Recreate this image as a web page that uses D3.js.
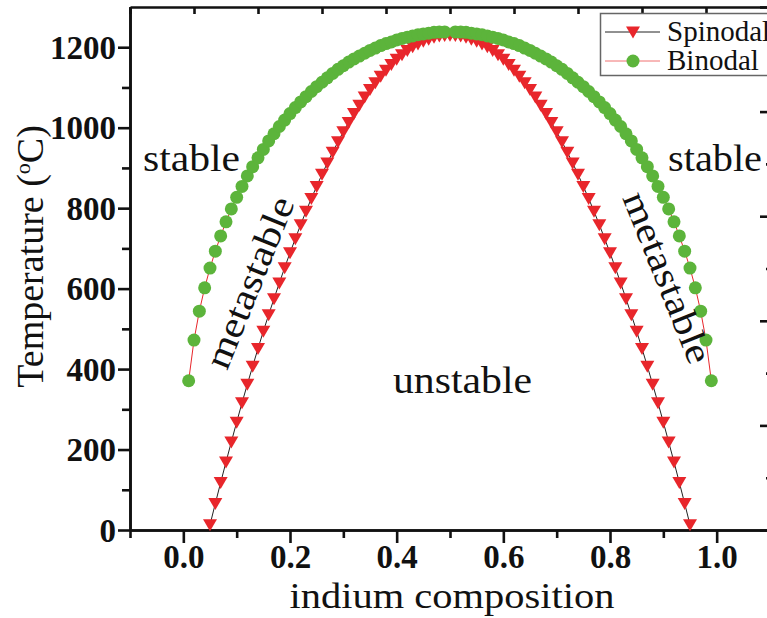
<!DOCTYPE html>
<html>
<head>
<meta charset="utf-8">
<script src="https://cdn.jsdelivr.net/npm/d3@7/dist/d3.min.js"></script>
<style>
  html, body { margin: 0; padding: 0; background: #fff; overflow: hidden; }
  svg { display: block; }
  text { font-family: "Liberation Serif", "Times New Roman", serif; fill: #111; }
</style>
</head>
<body>
<svg id="chart" width="767" height="618"></svg>
<script>
// Spinodal curve of the indium solid solution (temperature in °C)
const spinodalComposition = [
  0.05,0.06,0.07,0.08,0.09,0.10,0.11,0.12,0.13,0.14,0.15,0.16,0.17,0.18,0.19,0.20,
  0.21,0.22,0.23,0.24,0.25,0.26,0.27,0.28,0.29,0.30,0.31,0.32,0.33,0.34,0.35,0.36,
  0.37,0.38,0.39,0.40,0.41,0.42,0.43,0.44,0.45,0.46,0.47,0.48,0.49,0.50,0.51,0.52,
  0.53,0.54,0.55,0.56,0.57,0.58,0.59,0.60,0.61,0.62,0.63,0.64,0.65,0.66,0.67,0.68,
  0.69,0.70,0.71,0.72,0.73,0.74,0.75,0.76,0.77,0.78,0.79,0.80,0.81,0.82,0.83,0.84,
  0.85,0.86,0.87,0.88,0.89,0.90,0.91,0.92,0.93,0.94,0.95
];
const spinodalTemperature = [
  13,66,118,169,219,268,316,362,407,451,494,535,575,614,652,689,
  724,759,792,824,854,884,912,939,965,990,1013,1035,1056,1076,1095,1112,
  1128,1143,1157,1170,1181,1192,1201,1208,1215,1220,1225,1228,1229,1230,1229,1228,
  1225,1220,1215,1208,1201,1192,1181,1170,1157,1143,1128,1112,1095,1076,1056,1035,
  1013,990,965,939,912,884,854,824,792,759,724,689,652,614,575,535,
  494,451,407,362,316,268,219,169,118,66,13
];

// Binodal (miscibility gap) curve
const binodalComposition = [
  0.01,0.02,0.03,0.04,0.05,0.06,0.07,0.08,0.09,0.10,0.11,0.12,0.13,0.14,0.15,0.16,
  0.17,0.18,0.19,0.20,0.21,0.22,0.23,0.24,0.25,0.26,0.27,0.28,0.29,0.30,0.31,0.32,
  0.33,0.34,0.35,0.36,0.37,0.38,0.39,0.40,0.41,0.42,0.43,0.44,0.45,0.46,0.47,0.48,0.49,
  0.51,0.52,0.53,0.54,0.55,0.56,0.57,0.58,0.59,0.60,0.61,0.62,0.63,0.64,0.65,0.66,
  0.67,0.68,0.69,0.70,0.71,0.72,0.73,0.74,0.75,0.76,0.77,0.78,0.79,0.80,0.81,0.82,
  0.83,0.84,0.85,0.86,0.87,0.88,0.89,0.90,0.91,0.92,0.93,0.94,0.95,0.96,0.97,0.98,0.99
];
const binodalTemperature = [
  371,472,544,602,651,693,731,766,798,827,854,880,903,925,946,967,
  985,1003,1019,1035,1050,1064,1077,1090,1102,1113,1124,1135,1145,1154,1163,1171,
  1178,1185,1192,1198,1204,1209,1213,1218,1222,1225,1228,1231,1233,1235,1237,1238,1238,
  1238,1238,1237,1235,1233,1231,1228,1225,1222,1218,1213,1209,1204,1198,1192,1185,
  1178,1171,1163,1154,1145,1135,1124,1113,1102,1090,1077,1064,1050,1035,1019,1003,
  985,967,946,925,903,880,854,827,798,766,731,693,651,602,544,472,371
];

// Axis ticks
const xMajorTicks = [0.0, 0.2, 0.4, 0.6, 0.8, 1.0];
const xMinorTicks = [-0.1, 0.1, 0.3, 0.5, 0.7, 0.9, 1.1];
const yMajorTicks = [0, 200, 400, 600, 800, 1000, 1200];
const yMinorTicks = [100, 300, 500, 700, 900, 1100];
const topTicks = [0,1,2,3,4,5,6,7,8,9,10];
const rightMajorTicks = [0,1,2,3,4,5];
const rightMinorTicks = [0.5,1.5,2.5,3.5,4.5];

const seriesNames = ["Spinodal", "Binodal"];
const RED = "#e8262b", GREEN = "#5cb43b";

const svg = d3.select("#chart");
const plotLeft = 130, plotRight = 770, plotTop = 7, plotBottom = 530;

const x = d3.scaleLinear().domain([-0.1, 1.1]).range([plotLeft, plotRight]);
const y = d3.scaleLinear().domain([0, 1300]).range([plotBottom, plotTop]);
const xTop = d3.scaleLinear().domain([0, 10]).range([plotLeft, plotRight]);
const yRight = d3.scaleLinear().domain([0, 5]).range([plotBottom, plotTop]);

function styleAxis(g) {
  g.selectAll("path.domain").attr("stroke", "#111").attr("stroke-width", 2.6);
  g.selectAll(".tick line").attr("stroke", "#111").attr("stroke-width", 2.6);
  g.attr("font-family", null).attr("font-size", null);
}

// minor ticks first so major ticks and frame lines sit on top
svg.append("g").attr("transform", `translate(0,${plotBottom})`)
  .call(d3.axisBottom(x).tickValues(xMinorTicks).tickSize(8).tickSizeOuter(0).tickFormat(""))
  .call(styleAxis);
svg.append("g").attr("transform", `translate(${plotLeft},0)`)
  .call(d3.axisLeft(y).tickValues(yMinorTicks).tickSize(8).tickSizeOuter(0).tickFormat(""))
  .call(styleAxis);
svg.append("g").attr("transform", `translate(0,${plotTop})`)
  .call(d3.axisTop(xTop).tickValues(topTicks).tickSize(-7).tickSizeOuter(0).tickFormat(""))
  .call(styleAxis);
svg.append("g").attr("transform", `translate(${plotRight},0)`)
  .call(d3.axisRight(yRight).tickValues(rightMinorTicks).tickSize(-4).tickSizeOuter(0).tickFormat(""))
  .call(styleAxis);
svg.append("g").attr("transform", `translate(${plotRight},0)`)
  .call(d3.axisRight(yRight).tickValues(rightMajorTicks).tickSize(-10).tickSizeOuter(0).tickFormat(""))
  .call(styleAxis);

const xAxis = svg.append("g").attr("transform", `translate(0,${plotBottom})`)
  .call(d3.axisBottom(x).tickValues(xMajorTicks).tickSize(13).tickSizeOuter(0)
    .tickPadding(3).tickFormat(d3.format(".1f")))
  .call(styleAxis);
xAxis.selectAll(".tick text")
  .attr("font-size", 33).attr("font-weight", "bold").attr("fill", "#111")
  .attr("dy", "0.66em");

const yAxis = svg.append("g").attr("transform", `translate(${plotLeft},0)`)
  .call(d3.axisLeft(y).tickValues(yMajorTicks).tickSize(12).tickSizeOuter(0)
    .tickPadding(2).tickFormat(d3.format("d")))
  .call(styleAxis);
yAxis.selectAll(".tick text")
  .attr("font-size", 33).attr("font-weight", "bold").attr("fill", "#111")
  .attr("dy", "0.34em");

// axis titles
svg.append("text")
  .attr("x", 452).attr("y", 608)
  .attr("text-anchor", "middle").attr("font-size", 36)
  .attr("textLength", 325).attr("lengthAdjust", "spacingAndGlyphs")
  .text("indium composition");

svg.append("text")
  .attr("transform", `translate(43,${(plotTop + plotBottom) / 2 - 12}) rotate(-90)`)
  .attr("text-anchor", "middle").attr("font-size", 38)
  .call(t => {
    t.append("tspan").text("Temperature (");
    t.append("tspan").attr("font-size", 22).attr("dy", -13).text("o");
    t.append("tspan").attr("dy", 13).text("C)");
  });

// curves
const pts = (xs, ys) => xs.map((c, i) => ({c, t: ys[i]}));
const spinodal = pts(spinodalComposition, spinodalTemperature);
const binodal = pts(binodalComposition, binodalTemperature);
const line = d3.line().x(d => x(d.c)).y(d => y(d.t));

const triangle = "M-7,-5.5L7,-5.5L0,6.5Z";

svg.append("path").datum(spinodal)
  .attr("d", line).attr("fill", "none").attr("stroke", "#222").attr("stroke-width", 1);
svg.append("g").selectAll("path").data(spinodal).join("path")
  .attr("d", triangle)
  .attr("transform", d => `translate(${x(d.c)},${y(d.t)})`)
  .attr("fill", RED);

svg.append("path").datum(binodal)
  .attr("d", line).attr("fill", "none").attr("stroke", RED).attr("stroke-width", 1);
svg.append("g").selectAll("circle").data(binodal).join("circle")
  .attr("cx", d => x(d.c)).attr("cy", d => y(d.t)).attr("r", 6.5)
  .attr("fill", GREEN);

// region labels
const label = (txt, tx, ty, rot, size, len) =>
  svg.append("text")
    .attr("transform", `translate(${tx},${ty}) rotate(${rot})`)
    .attr("text-anchor", "middle").attr("font-size", size)
    .attr("textLength", len).attr("lengthAdjust", "spacingAndGlyphs")
    .text(txt);

label("stable", 191.5, 171, 0, 38, 97);
label("stable", 715, 171, 0, 38, 94);
label("unstable", 462.5, 393, 0, 38, 139);
label("metastable", 261, 287, -68, 37, 182);
label("metastable", 656, 282, 68, 37, 182);

// legend
const legend = svg.append("g");
legend.append("rect")
  .attr("x", 600.5).attr("y", 13.5).attr("width", 200).attr("height", 62)
  .attr("fill", "#fff").attr("stroke", "#666").attr("stroke-width", 1.5);
const rows = legend.selectAll("g.row").data(seriesNames).join("g")
  .attr("transform", (d, i) => `translate(0,${32 + i * 29})`);
rows.append("line")
  .attr("x1", 605).attr("x2", 660)
  .attr("stroke", (d, i) => i === 0 ? "#222" : "#f07070").attr("stroke-width", 1);
rows.filter((d, i) => i === 0).append("path")
  .attr("d", triangle).attr("transform", "translate(633,0)").attr("fill", RED);
rows.filter((d, i) => i === 1).append("circle")
  .attr("cx", 633).attr("r", 6.5).attr("fill", GREEN);
rows.append("text")
  .attr("x", 667).attr("y", 9).attr("font-size", 29)
  .text(d => d);
</script>
</body>
</html>
